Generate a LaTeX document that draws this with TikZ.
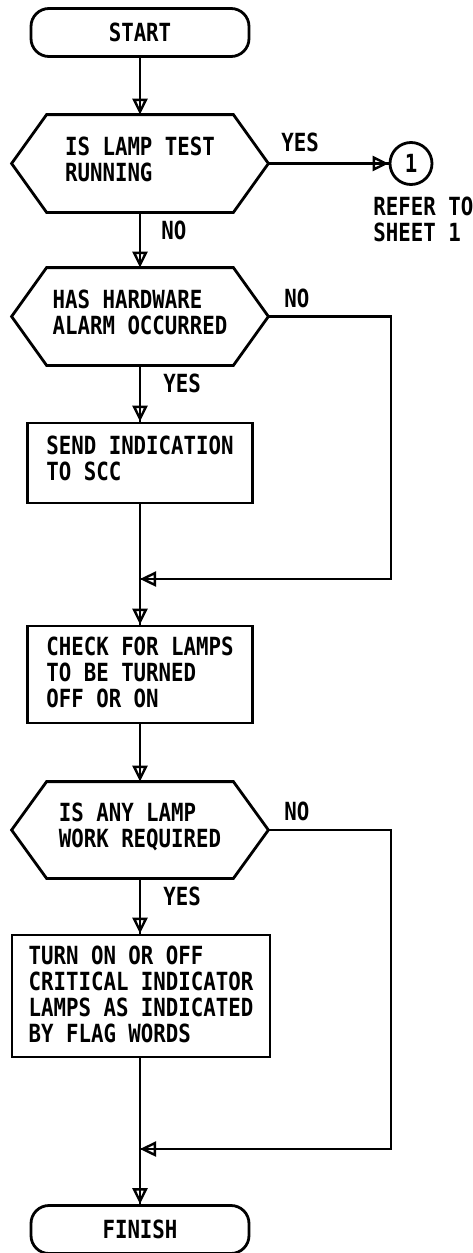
\documentclass[tikz,border=0pt]{standalone}
\usepackage{fontspec}
\setmainfont{DejaVu Sans Mono}[FakeStretch=0.83]
\usetikzlibrary{arrows.meta}
\newcommand\hexout[1]{\draw (#1.west) -- ([xshift=35pt]#1.north west) -- ([xshift=-35pt]#1.north east) -- (#1.east) -- ([xshift=-35pt]#1.south east) -- ([xshift=35pt]#1.south west) -- cycle;}
\begin{document}
\begin{tikzpicture}[x=1pt,y=-1pt, line width=2.8pt,
  every node/.style={font=\bfseries\fontsize{25}{26}\selectfont},
  term/.style={draw, rounded corners=18pt, minimum width=218pt, minimum height=48pt, inner sep=0pt},
  proc/.style={draw, align=left, inner sep=0pt},
  hexa/.style={align=left, inner sep=0pt, minimum width=254pt, text depth=8pt},
  lbl/.style={anchor=west, inner sep=0pt, align=left},
  flow/.style={postaction={draw, -{Triangle[open, length=16pt, width=15pt, line width=2.4pt]}}},
]
\useasboundingbox (0,0) rectangle (472,1253);

\node[term] (start) at (140,32.5) {START};
\node[hexa, minimum height=95pt] (h1) at (140,163.5) {IS LAMP TEST\\RUNNING};
\hexout{h1}
\node[draw, circle, minimum size=42pt, inner sep=0pt] (c1) at (411,163.5) {1};
\node[hexa, minimum height=95pt] (h2) at (140,316.5) {HAS HARDWARE\\ALARM OCCURRED};
\hexout{h2}
\node[proc, minimum width=225pt, minimum height=80pt, text depth=10pt] (b1) at (140,463) {SEND INDICATION\\TO SCC};
\node[proc, minimum width=225pt, minimum height=97pt, text depth=4pt] (b2) at (140,674.5) {CHECK FOR LAMPS\\TO BE TURNED\\OFF OR ON};
\node[hexa, minimum height=94pt, text depth=9pt] (h3) at (140,830) {IS ANY LAMP\\WORK REQUIRED};
\hexout{h3}
\node[proc, minimum width=258pt, minimum height=122pt, text depth=3pt] (b3) at (141,996) {TURN ON OR OFF\\CRITICAL INDICATOR\\LAMPS AS INDICATED\\BY FLAG WORDS};
\node[term] (finish) at (140,1229.5) {FINISH};

\node[lbl] (yes1) at (280,142) {YES};
\node[lbl] (no1) at (160,230) {NO};
\node[lbl] (ref) at (372,219.5) {REFER TO\\SHEET 1};
\node[lbl] (no2) at (283,298) {NO};
\node[lbl] (yes2) at (162,383) {YES};
\node[lbl] (no3) at (283,811) {NO};
\node[lbl] (yes3) at (162,896) {YES};

\coordinate (j1) at (140,579);
\coordinate (j2) at (140,1149);
\coordinate (rx) at (391,0);

\draw[flow] (start) -- (h1);
\draw[flow] (h1.east) -- (c1);
\draw[flow] (h1) -- (h2);
\draw[flow] (h2) -- (b1);
\draw[flow] (b1) -- (b2);
\draw[flow] (h2.east) -| (rx |- j1) -- (j1);
\draw[flow] (b2) -- (h3);
\draw[flow] (h3) -- (b3.north -| h3);
\draw[flow] (b3.south -| finish) -- (finish);
\draw[flow] (h3.east) -| (rx |- j2) -- (j2);
\end{tikzpicture}
\end{document}
